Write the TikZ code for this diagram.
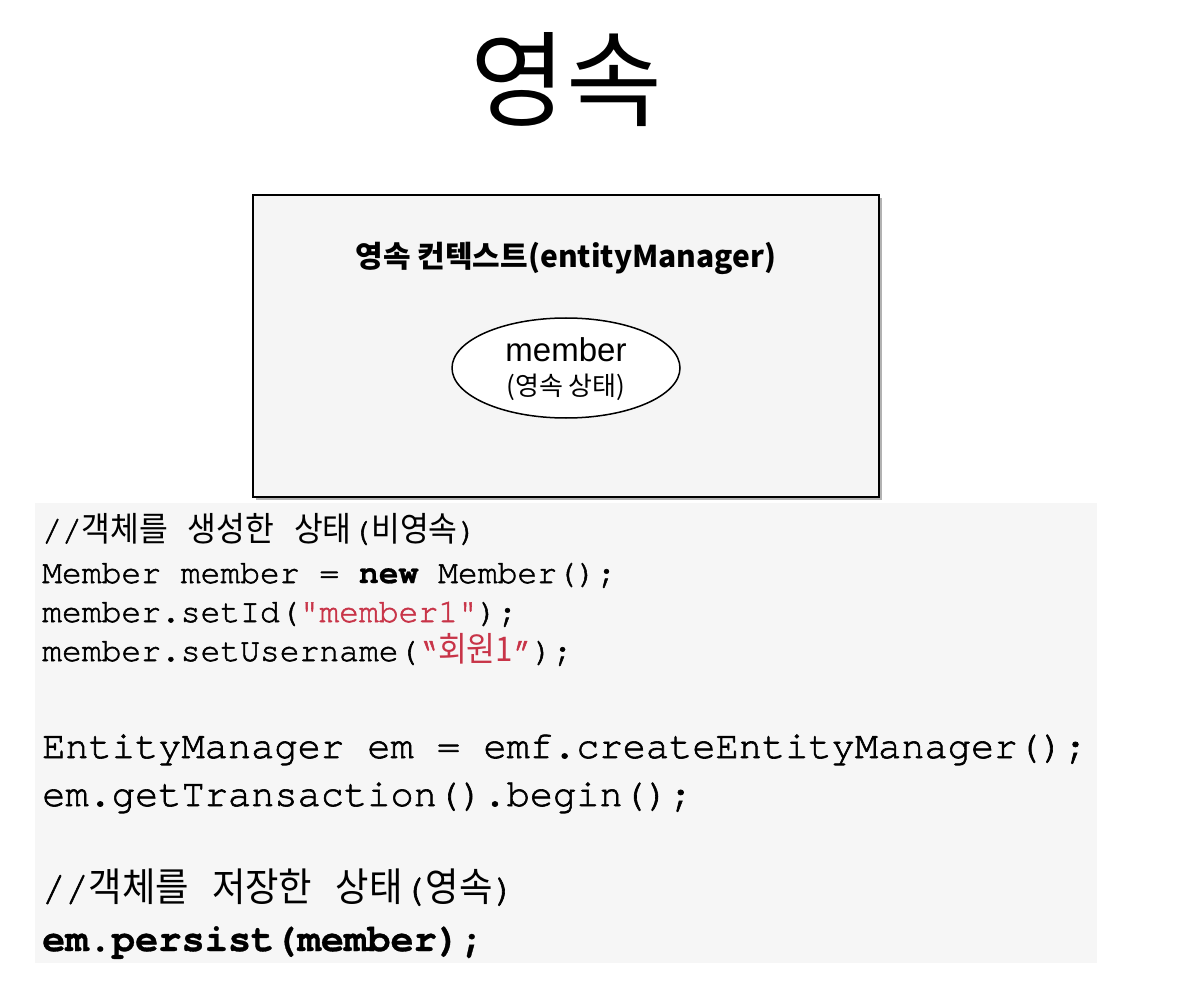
\documentclass[tikz,border=0pt]{standalone}
\usepackage{fontspec}
\usetikzlibrary{shapes.geometric}
\setmainfont{Liberation Sans}
\setmonofont{TeX Gyre Cursor}[UprightFeatures={FakeBold=1.6},BoldFeatures={FakeBold=0.8}]
\newfontfamily\kr{Noto Sans CJK KR}
\newfontfamily\krA{Noto Sans CJK KR}[FakeStretch=0.92]
\definecolor{codered}{RGB}{200,52,72}
\definecolor{codebg}{RGB}{246,246,246}
\definecolor{boxbg}{RGB}{245,245,245}
\newcommand\Ks[1]{{\krA\fontsize{34}{34}\selectfont #1}}
\newcommand\Kb[1]{{\krA\fontsize{39.5}{40}\selectfont #1}}
\tikzset{
  codeline/.style={anchor=base west, inner sep=0pt, font=\ttfamily\fontsize{33}{33}\selectfont},
  codebig/.style={anchor=base west, inner sep=0pt, font=\ttfamily\fontsize{38.7}{40}\selectfont},
}
\begin{document}
\begin{tikzpicture}[x=1pt,y=-1pt]
\useasboundingbox (0,0) rectangle (1178,984);
\fill[white] (0,0) rectangle (1178,984);
% title
\node[inner sep=0pt] (title) at (566,80) {\kr\fontsize{104}{104}\selectfont 영속};
% context box
\fill[black!30] (256,198) rectangle (882,500);
\node[draw=black, line width=2pt, fill=boxbg, minimum width=626pt, minimum height=302pt, inner sep=0pt] (ctx) at (566,346) {};
\node[inner sep=0pt] (ctxlabel) at (566,258) {\kr\bfseries\fontsize{30}{30}\selectfont 영속 컨텍스트(entityManager)};
\node[draw=black, line width=1.5pt, fill=white, ellipse, minimum width=228pt, minimum height=100pt, inner sep=0pt] (member) at (566,368) {};
\node[inner sep=0pt] (mname) at (566,350) {\fontsize{33}{33}\selectfont member};
\node[inner sep=0pt] (mstate) at (566,387) {\kr\fontsize{26}{26}\selectfont (영속 상태)};
% code block
\fill[codebg] (35,503) rectangle (1097,963);
\node[codeline] (l1) at (42,541) {//\Ks{객체를} \Ks{생성한} \Ks{상태}(\Ks{비영속})};
\node[codeline] (l2) at (42,583) {Member member = {\bfseries new} Member();};
\node[codeline] (l3) at (42,622) {member.setId(\textcolor{codered}{"member1"});};
\node[codeline] (l4) at (42,661) {member.setUsername(\textcolor{codered}{“\Ks{회원1}”});};
\node[codebig] (l5) at (42,758) {EntityManager em = emf.createEntityManager();};
\node[codebig] (l6) at (42,806) {em.getTransaction().begin();};
\node[codebig] (l7) at (42,901) {//\Kb{객체를} \Kb{저장한} \Kb{상태}(\Kb{영속})};
\node[codebig] (l8) at (42,951) {\bfseries em.persist(member);};
\end{tikzpicture}
\end{document}
